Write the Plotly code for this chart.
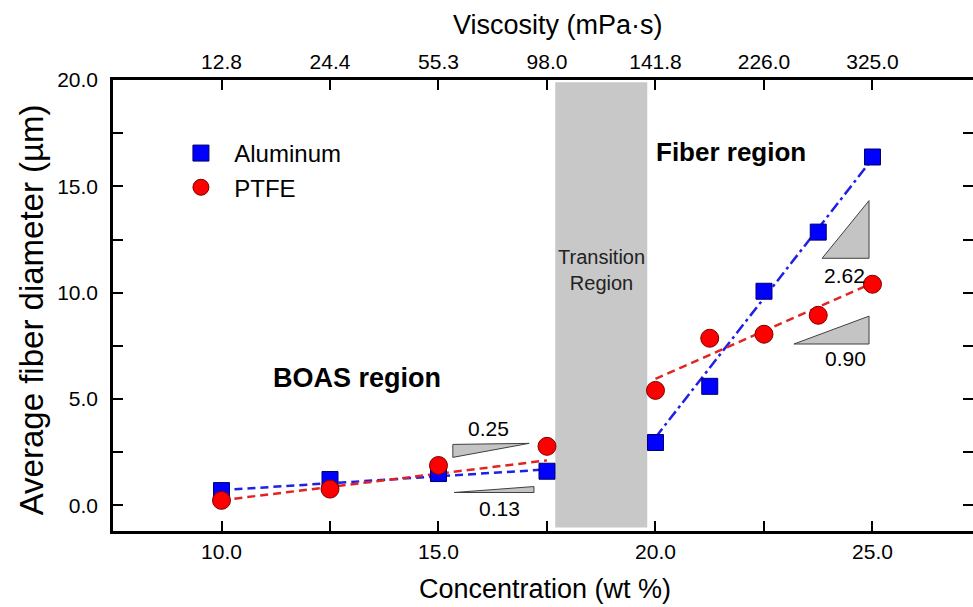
import plotly.graph_objects as go

# ---------------- data ----------------
concentration = [10, 12.5, 15, 17.5, 20, 21.25, 22.5, 23.75, 25]
aluminum_diam = [0.70, 1.22, 1.50, 1.61, 2.96, 5.60, 10.07, 12.85, 16.38]
ptfe_diam = [0.24, 0.77, 1.88, 2.78, 5.41, 7.86, 8.05, 8.94, 10.40]

visc_conc = [10, 12.5, 15, 17.5, 20, 22.5, 25]
visc_labels = ["12.8", "24.4", "55.3", "98.0", "141.8", "226.0", "325.0"]

x_tickvals = [10, 12.5, 15, 17.5, 20, 22.5, 25, 27.5]
x_ticktext = ["10.0", "", "15.0", "", "20.0", "", "25.0", ""]
y_tickvals = [0, 2.5, 5, 7.5, 10, 12.5, 15, 17.5, 20]
y_ticktext = ["0.0", "", "5.0", "", "10.0", "", "15.0", "", "20.0"]

# linear fits (slope labels shown on chart)
fit_series = ["Aluminum", "PTFE", "Aluminum", "PTFE"]
fit_x_start = [10, 10, 20, 20]
fit_x_end = [17.5, 17.5, 25, 25]
fit_y_start = [0.72, 0.245, 3.2, 5.95]
fit_slope = [0.13, 0.25, 2.62, 0.90]
fit_dash = ["8px,5px", "8px,5px", "11px,4px,3px,4px", "8px,5px"]

# slope triangles (vertices in data units) and their labels
tri_x = [[15.33, 17.09, 15.33], [15.36, 17.2, 17.2], [23.84, 24.92, 24.92], [23.19, 24.92, 24.92]]
tri_y = [[2.87, 2.92, 2.26], [0.61, 0.61, 0.89], [11.62, 11.62, 14.33], [7.59, 7.59, 8.9]]
tri_label_x = [16.15, 16.4, 24.35, 24.38]
tri_label_y = [3.62, -0.14, 10.82, 6.92]
tri_labels = ["0.25", "0.13", "2.62", "0.90"]

transition_x = [17.69, 19.81]
transition_y = [-1.035, 19.9]

FONT = "Liberation Sans, Arial, sans-serif"
colors = {"Aluminum": "#0000ff", "PTFE": "#ff0000"}
line_colors = {"Aluminum": "#1f1fe6", "PTFE": "#e02424"}

fig = go.Figure()

# slope triangles
for tx, ty in zip(tri_x, tri_y):
    fig.add_trace(go.Scatter(x=tx + [tx[0]], y=ty + [ty[0]], mode="lines", fill="toself",
                             fillcolor="#c4c4c4", line=dict(color="#404040", width=1),
                             showlegend=False, hoverinfo="skip"))

# fit lines
for s, x0, x1, y0, m, d in zip(fit_series, fit_x_start, fit_x_end, fit_y_start, fit_slope, fit_dash):
    fig.add_trace(go.Scatter(x=[x0, x1], y=[y0, y0 + m * (x1 - x0)], mode="lines",
                             line=dict(color=line_colors[s], width=2.5, dash=d),
                             showlegend=False, hoverinfo="skip"))

# data markers
fig.add_trace(go.Scatter(x=concentration, y=aluminum_diam, mode="markers", name="\u00a0\u00a0Aluminum",
                         marker=dict(symbol="square", size=16, color=colors["Aluminum"],
                                     line=dict(color="#00006a", width=1))))
fig.add_trace(go.Scatter(x=concentration, y=ptfe_diam, mode="markers", name="\u00a0\u00a0PTFE",
                         marker=dict(symbol="circle", size=18, color=colors["PTFE"],
                                     line=dict(color="#7a0000", width=1))))

# invisible traces to activate top / right axes
fig.add_trace(go.Scatter(x=[visc_conc[0]], y=[0], xaxis="x2", yaxis="y", mode="markers",
                         marker=dict(opacity=0), showlegend=False, hoverinfo="skip"))
fig.add_trace(go.Scatter(x=[visc_conc[0]], y=[0], xaxis="x", yaxis="y2", mode="markers",
                         marker=dict(opacity=0), showlegend=False, hoverinfo="skip"))

xr = [7.5, 27.316]
yr = [-1.2, 20]
tickfont = dict(family=FONT, size=21, color="black")

fig.update_layout(
    width=973, height=607,
    margin=dict(l=113, r=0, t=80, b=76),
    plot_bgcolor="white", paper_bgcolor="white",
    font=dict(family=FONT, color="black"),
    xaxis=dict(range=xr, tickvals=x_tickvals, ticktext=x_ticktext, ticks="inside", ticklen=10,
               tickwidth=2, tickcolor="black", showline=True, linewidth=2.5, linecolor="black",
               showgrid=False, zeroline=False, tickfont=tickfont, ticklabelstandoff=0),
    xaxis2=dict(range=xr, overlaying="x", side="top", anchor="y", tickvals=visc_conc,
                ticktext=visc_labels, ticks="inside", ticklen=10, tickwidth=2, tickcolor="black",
                showline=True, linewidth=2.5, linecolor="black", showgrid=False, zeroline=False,
                tickfont=tickfont, ticklabelstandoff=0),
    yaxis=dict(range=yr, tickvals=y_tickvals, ticktext=y_ticktext, ticks="inside", ticklen=10,
               tickwidth=2, tickcolor="black", showline=True, linewidth=2.5, linecolor="black",
               showgrid=False, zeroline=False, tickfont=tickfont, ticklabelstandoff=8),
    yaxis2=dict(range=yr, overlaying="y", side="right", anchor="x", tickvals=y_tickvals,
                ticks="inside", ticklen=10, tickwidth=2, tickcolor="black", showline=False,
                showticklabels=False, showgrid=False, zeroline=False),
    legend=dict(x=0.079, y=0.887, xanchor="left", yanchor="top", bgcolor="rgba(0,0,0,0)",
                font=dict(family=FONT, size=24, color="black"), tracegroupgap=0),
    shapes=[dict(type="rect", xref="x", yref="y", x0=transition_x[0], x1=transition_x[1],
                 y0=transition_y[0], y1=transition_y[1], fillcolor="#c8c8c8",
                 line=dict(width=0), layer="below")],
)

ann = []
for lx, ly, t in zip(tri_label_x, tri_label_y, tri_labels):
    ann.append(dict(x=lx, y=ly, xref="x", yref="y", text=t, showarrow=False,
                    font=dict(family=FONT, size=21, color="black")))
ann.append(dict(x=21.75, y=16.6, xref="x", yref="y", text="<b>Fiber region</b>", showarrow=False,
                font=dict(family=FONT, size=26, color="black")))
ann.append(dict(x=13.13, y=5.98, xref="x", yref="y", text="<b>BOAS region</b>", showarrow=False,
                font=dict(family=FONT, size=27, color="black")))
ann.append(dict(x=18.75, y=11.08, xref="x", yref="y", text="Transition<br>Region", showarrow=False,
                font=dict(family=FONT, size=20, color="#222222")))
# axis titles
ann.append(dict(x=0.502, y=-0.129, xref="paper", yref="paper", text="Concentration (wt %)",
                showarrow=False, yanchor="middle", font=dict(family=FONT, size=27, color="black")))
ann.append(dict(x=0.517, y=1.122, xref="paper", yref="paper", text="Viscosity (mPa\u00b7s)",
                showarrow=False, yanchor="middle", font=dict(family=FONT, size=27, color="black")))
ann.append(dict(x=-0.095, y=0.49, xref="paper", yref="paper", text="Average fiber diameter (\u00b5m)",
                showarrow=False, textangle=-90, xanchor="center", yanchor="middle",
                font=dict(family=FONT, size=33, color="black")))
fig.update_layout(annotations=ann)

fig.write_html("out.html")
